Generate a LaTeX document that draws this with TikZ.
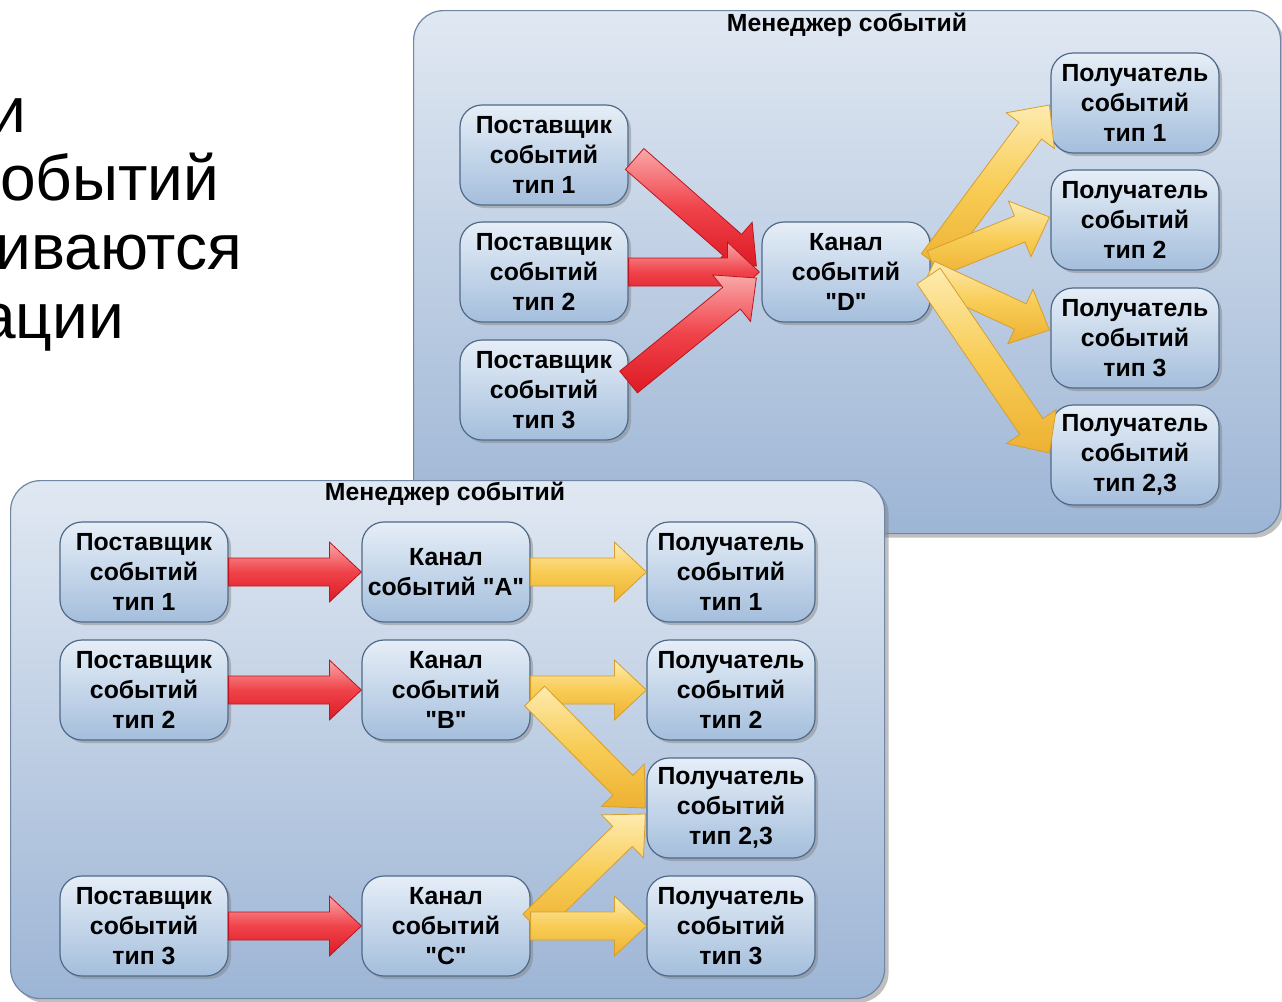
\documentclass[tikz,border=0pt]{standalone}
\usepackage{fontspec}
\setmainfont{Liberation Sans}[Ligatures=TeXOff]
\usetikzlibrary{calc,shadows}
\definecolor{boxtop}{HTML}{E6EEF7}
\definecolor{boxbot}{HTML}{A4BEDC}
\definecolor{boxline}{HTML}{4F6A88}
\definecolor{paneltop}{HTML}{E0E8F2}
\definecolor{panelbot}{HTML}{9DB5D5}
\definecolor{panelline}{HTML}{6F87A5}
\definecolor{redlt}{HTML}{F9A8A8}
\definecolor{redmd}{HTML}{F0424A}
\definecolor{reddk}{HTML}{DC1A24}
\definecolor{yellt}{HTML}{FEEBB0}
\definecolor{yelmd}{HTML}{F8CC55}
\definecolor{yeldk}{HTML}{EDB132}
\tikzset{
 evbox/.style={rounded corners=11pt, minimum width=84pt, minimum height=50pt, inner sep=0pt,
   align=center, font=\bfseries\fontsize{12.4}{15}\selectfont, draw=boxline, line width=0.6pt,
   top color=boxtop, bottom color=boxbot,
   drop shadow={shadow xshift=1.5pt, shadow yshift=-1.5pt, opacity=0.45}},
 panel/.style={rounded corners=15pt, draw=panelline, line width=0.6pt, inner sep=0pt,
   top color=paneltop, bottom color=panelbot, anchor=north west,
   drop shadow={shadow xshift=2pt, shadow yshift=-2pt, opacity=0.5}},
 ptitle/.style={font=\bfseries\fontsize{12.4}{14}\selectfont, inner sep=0pt},
 bigtext/.style={font=\fontsize{32}{34}\selectfont, inner sep=0pt, anchor=base west},
 redarr/.style={top color=redlt, bottom color=reddk, middle color=redmd, draw=reddk!85!black, line width=0.4pt},
 yelarr/.style={top color=yellt, bottom color=yeldk, middle color=yelmd, draw=yeldk!90!black, line width=0.4pt}
}
\newcommand\fatarr[3]{%
 \coordinate (fa-s) at (#1);
 \coordinate (fa-e) at (#2);
 \coordinate (fa-c) at ($(fa-e)!16pt!(fa-s)$);
 \path[#3] ($(fa-s)!7pt!90:(fa-e)$) -- ($(fa-c)!7pt!90:(fa-e)$) -- ($(fa-c)!15pt!90:(fa-e)$)
   -- (fa-e) -- ($(fa-c)!15pt!-90:(fa-e)$) -- ($(fa-c)!7pt!-90:(fa-e)$)
   -- ($(fa-s)!7pt!-90:(fa-e)$) -- cycle;
}
\begin{document}
\begin{tikzpicture}[x=0.5pt,y=-0.5pt]
\useasboundingbox (0,0) rectangle (1282,1002);
% left text fragments (cut at the left edge, as in the reference)
\node[bigtext] (l1) at (-10,132) {и};
\node[bigtext] (l2) at (0,200) {обытий};
\node[bigtext] (l3) at (-5,269) {иваются};
\node[bigtext] (l4) at (-20,338) {ации};
% top panel
\node[panel, minimum width=433.5pt, minimum height=261.5pt] (tpanel) at (413,10) {};
\node[ptitle] (ttitle) at (847,25) {Менеджер событий};
\node[evbox] (tp1) at (544,155) {Поставщик\\событий\\тип 1};
\node[evbox] (tp2) at (544,272) {Поставщик\\событий\\тип 2};
\node[evbox] (tp3) at (544,390) {Поставщик\\событий\\тип 3};
\node[evbox] (tD) at (846,272) {Канал\\событий\\"D"};
\node[evbox] (tr1) at (1135,103) {Получатель\\событий\\тип 1};
\node[evbox] (tr2) at (1135,220) {Получатель\\событий\\тип 2};
\node[evbox] (tr3) at (1135,338) {Получатель\\событий\\тип 3};
\node[evbox] (tr4) at (1135,455) {Получатель\\событий\\тип 2,3};
\fatarr{$(tp1.east)+(6,4)$}{$(tD.west)+(-5,-6)$}{redarr}
\fatarr{tp2.east}{$(tD.west)+(-2,0)$}{redarr}
\fatarr{$(tp3.east)+(0,-8)$}{$(tD.west)+(-5,6)$}{redarr}
\fatarr{$(tD.east)+(2,-10)$}{$(tr1.west)+(-1,2)$}{yelarr}
\fatarr{$(tD.east)+(2,-8)$}{$(tr2.west)+(-1,-3)$}{yelarr}
\fatarr{$(tD.east)+(-2,2)$}{$(tr3.west)+(-1,-8)$}{yelarr}
\fatarr{$(tD.east)+(-2,4)$}{$(tr4.west)+(-1,-2)$}{yelarr}
% bottom panel
\node[panel, minimum width=437pt, minimum height=259pt] (bpanel) at (10,480) {};
\node[ptitle] (btitle) at (445,494) {Менеджер событий};
\node[evbox] (bp1) at (144,572) {Поставщик\\событий\\тип 1};
\node[evbox] (bp2) at (144,690) {Поставщик\\событий\\тип 2};
\node[evbox] (bp3) at (144,926) {Поставщик\\событий\\тип 3};
\node[evbox] (bA) at (446,572) {Канал\\событий "A"};
\node[evbox] (bB) at (446,690) {Канал\\событий\\"B"};
\node[evbox] (bC) at (446,926) {Канал\\событий\\"C"};
\node[evbox] (br1) at (731,572) {Получатель\\событий\\тип 1};
\node[evbox] (br2) at (731,690) {Получатель\\событий\\тип 2};
\node[evbox] (br23) at (731,808) {Получатель\\событий\\тип 2,3};
\node[evbox] (br3) at (731,926) {Получатель\\событий\\тип 3};
\fatarr{bp1.east}{bA.west}{redarr}
\fatarr{bp2.east}{bB.west}{redarr}
\fatarr{bp3.east}{bC.west}{redarr}
\fatarr{bA.east}{br1.west}{yelarr}
\fatarr{bB.east}{br2.west}{yelarr}
\fatarr{$(bB.east)+(4,6)$}{$(br23.west)+(-1,0)$}{yelarr}
\fatarr{$(bC.east)+(2,-2)$}{$(br23.west)+(-1,6)$}{yelarr}
\fatarr{bC.east}{br3.west}{yelarr}
\end{tikzpicture}
\end{document}
